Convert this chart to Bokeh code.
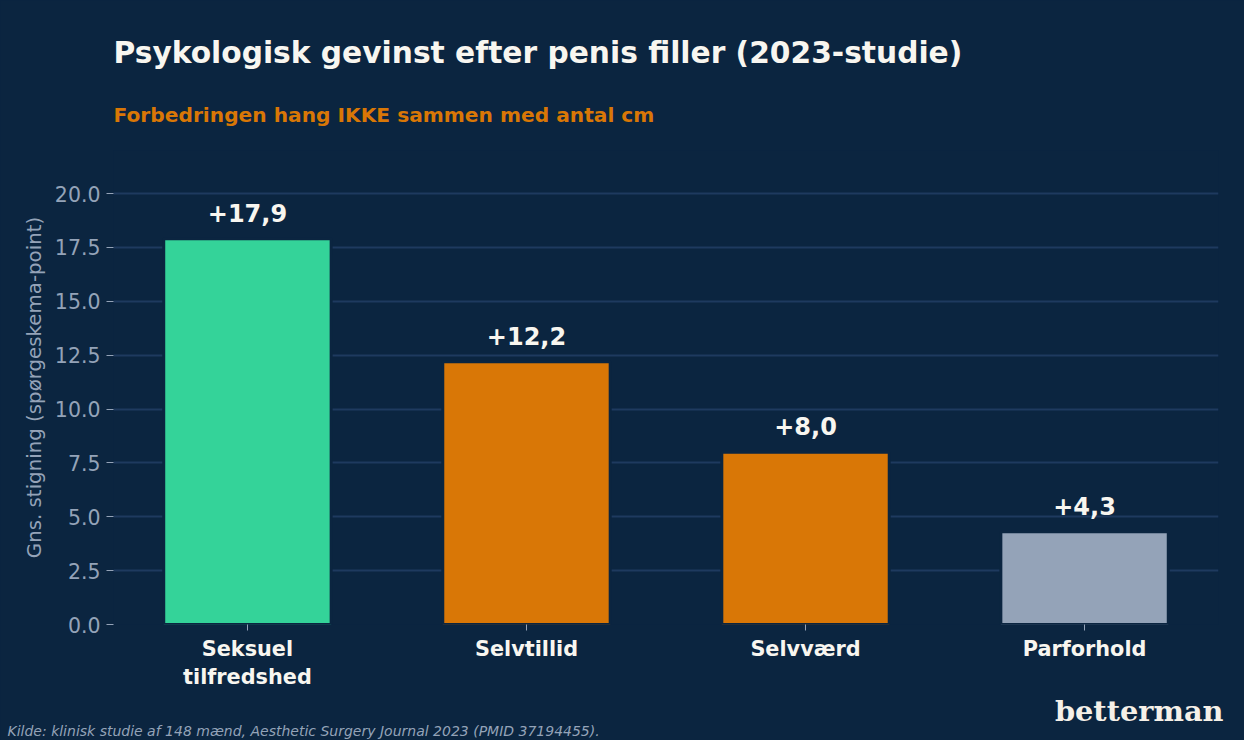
from bokeh.plotting import figure
from bokeh.models import Title, FixedTicker, PrintfTickFormatter, ColumnDataSource
from bokeh.embed import file_html
from bokeh.resources import INLINE

# data
categories = ["Seksuel\ntilfredshed", "Selvtillid", "Selvværd", "Parforhold"]
gains = [17.9, 12.2, 8.0, 4.3]
gain_labels = ["+17,9", "+12,2", "+8,0", "+4,3"]
bar_colors = ["#34d399", "#d97706", "#d97706", "#94a3b8"]
y_ticks = [0.0, 2.5, 5.0, 7.5, 10.0, 12.5, 15.0, 17.5, 20.0]

BG = "#0b2540"
GRID = "#1e3a5f"
MUTED = "#94a3b8"
WHITE = "#f8f6f0"
FONT = "DejaVu Sans"

xs = list(range(len(categories)))
src = ColumnDataSource(dict(x=xs, top=gains, label=gain_labels, color=bar_colors))

p = figure(
    width=1244,
    height=740,
    x_range=(-0.48, len(categories) - 0.52),
    y_range=(0, 22),
    output_backend="svg",
    toolbar_location=None,
    min_border_left=113,
    min_border_right=26,
    min_border_top=150,
    min_border_bottom=116,
)
# css background too, so the anti-aliased frame edge blends into the same colour
p.styles = {"background-color": BG}
p.background_fill_color = BG
p.border_fill_color = BG
p.outline_line_color = None

p.xgrid.grid_line_color = None
p.ygrid.grid_line_color = GRID
p.ygrid.grid_line_width = 2
p.ygrid.ticker = FixedTicker(ticks=y_ticks)

p.vbar(x="x", top="top", width=0.6, fill_color="color", line_color=BG, line_width=3, source=src)
p.text(x="x", y="top", text="label", source=src, text_align="center", text_baseline="bottom",
       y_offset=-17, text_color=WHITE, text_font_size="24px", text_font_style="bold",
       text_font={"value": FONT})

# x axis
p.xaxis.ticker = FixedTicker(ticks=xs)
p.xaxis.major_label_overrides = {i: c for i, c in enumerate(categories)}
p.xaxis.axis_line_color = None
p.xaxis.major_tick_line_color = MUTED
p.xaxis.major_tick_in = 0
p.xaxis.major_tick_out = 6
p.xaxis.minor_tick_line_color = None
p.xaxis.major_label_text_color = WHITE
p.xaxis.major_label_text_font = FONT
p.xaxis.major_label_text_font_size = "20.8px"
p.xaxis.major_label_text_font_style = "bold"
p.xaxis.major_label_standoff = 6

# y axis
p.yaxis.ticker = FixedTicker(ticks=y_ticks)
p.yaxis.formatter = PrintfTickFormatter(format="%.1f")
p.yaxis.axis_line_color = None
p.yaxis.major_tick_line_color = MUTED
p.yaxis.major_tick_in = 0
p.yaxis.major_tick_out = 7
p.yaxis.minor_tick_line_color = None
p.yaxis.major_label_text_color = MUTED
p.yaxis.major_label_text_font = FONT
p.yaxis.major_label_text_font_size = "20.5px"
p.yaxis.major_label_standoff = 6
p.yaxis.axis_label = "Gns. stigning (spørgeskema-point)"
p.yaxis.axis_label_text_color = MUTED
p.yaxis.axis_label_text_font = FONT
p.yaxis.axis_label_text_font_size = "19.8px"
p.yaxis.axis_label_text_font_style = "normal"
p.yaxis.axis_label_standoff = 6

# titles above the frame (first added sits nearest the frame)
p.add_layout(Title(text="Forbedringen hang IKKE sammen med antal cm", align="left",
                   text_color="#d97706", text_font=FONT, text_font_size="20.2px", text_font_style="bold",
                   standoff=47), "above")
p.add_layout(Title(text="Psykologisk gevinst efter penis filler (2023-studie)", align="left",
                   text_color=WHITE, text_font=FONT, text_font_size="29.7px", text_font_style="bold",
                   standoff=15), "above")

# logo and source line below the axis
p.add_layout(Title(text="betterman", align="right", offset=-5,
                   text_color="#f5f0e8", text_font="DejaVu Serif", text_font_size="28.8px", text_font_style="bold",
                   standoff=-2), "below")
p.add_layout(Title(text="Kilde: klinisk studie af 148 mænd, Aesthetic Surgery Journal 2023 (PMID 37194455).",
                   align="left", offset=-106,
                   text_color=MUTED, text_font=FONT, text_font_size="14px", text_font_style="italic",
                   standoff=-12), "below")

open("out.html", "w").write(file_html(p, INLINE))
